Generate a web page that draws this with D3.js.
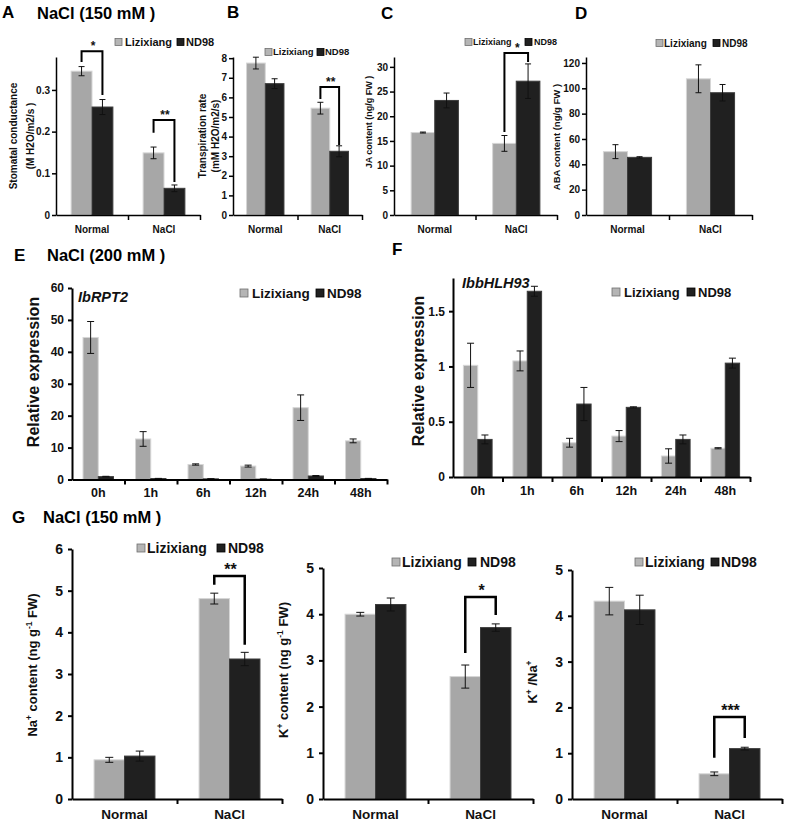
<!DOCTYPE html>
<html><head><meta charset="utf-8">
<script src="https://cdn.jsdelivr.net/npm/d3@7"></script>
<style>
body{margin:0;background:#fff;}
svg{display:block;}
</style></head><body>
<svg id="c" width="787" height="825"></svg>
<script>
// ---------------- data ----------------
const series = ["Lizixiang", "ND98"];
const conditions = ["Normal", "NaCl"];
const timepoints = ["0h", "1h", "6h", "12h", "24h", "48h"];

// A: stomatal conductance
const stomatalLiz = [0.345, 0.149];
const stomatalLizErr = [0.011, 0.014];
const stomatalND = [0.259, 0.064];
const stomatalNDErr = [0.018, 0.008];
const stomatalTicks = [0, 0.1, 0.2, 0.3];
const stomatalTickLabels = ["0", "0.1", "0.2", "0.3"];

// B: transpiration rate
const transpLiz = [7.75, 5.45];
const transpLizErr = [0.3, 0.3];
const transpND = [6.7, 3.25];
const transpNDErr = [0.25, 0.28];
const transpTicks = [0, 1, 2, 3, 4, 5, 6, 7, 8];
const transpTickLabels = ["0", "1", "2", "3", "4", "5", "6", "7", "8"];

// C: JA content
const jaLiz = [16.7, 14.5];
const jaLizErr = [0.1, 1.6];
const jaND = [23.2, 27.1];
const jaNDErr = [1.5, 3.5];
const jaTicks = [0, 5, 10, 15, 20, 25, 30];
const jaTickLabels = ["0", "5", "10", "15", "20", "25", "30"];

// D: ABA content
const abaLiz = [50, 107.5];
const abaLizErr = [5.5, 11];
const abaND = [45.5, 96.5];
const abaNDErr = [0.5, 6.5];
const abaTicks = [0, 20, 40, 60, 80, 100, 120];
const abaTickLabels = ["0", "20", "40", "60", "80", "100", "120"];

// E: IbRPT2 relative expression
const rptLiz = [44.5, 12.7, 4.7, 4.2, 22.5, 12.1];
const rptLizErr = [5, 2.3, 0.2, 0.3, 4, 0.6];
const rptND = [0.9, 0.3, 0.2, 0.1, 1.1, 0.3];
const rptNDErr = [0.1, 0.05, 0.05, 0.03, 0.15, 0.05];
const rptTicks = [0, 10, 20, 30, 40, 50, 60];
const rptTickLabels = ["0", "10", "20", "30", "40", "50", "60"];

// F: IbbHLH93 relative expression
const bhlhLiz = [1.01, 1.05, 0.31, 0.37, 0.19, 0.26];
const bhlhLizErr = [0.2, 0.09, 0.04, 0.05, 0.065, 0.005];
const bhlhND = [0.34, 1.68, 0.66, 0.63, 0.34, 1.03];
const bhlhNDErr = [0.04, 0.045, 0.15, 0.005, 0.04, 0.045];
const bhlhTicks = [0, 0.5, 1, 1.5];
const bhlhTickLabels = ["0", "0.5", "1", "1.5"];

// G: ion contents
const naLiz = [0.94, 4.81];
const naLizErr = [0.06, 0.13];
const naND = [1.03, 3.36];
const naNDErr = [0.12, 0.16];
const naTicks = [0, 1, 2, 3, 4, 5, 6];
const naTickLabels = ["0", "1", "2", "3", "4", "5", "6"];

const kLiz = [4.0, 2.65];
const kLizErr = [0.04, 0.25];
const kND = [4.21, 3.71];
const kNDErr = [0.14, 0.08];
const kTicks = [0, 1, 2, 3, 4, 5];
const kTickLabels = ["0", "1", "2", "3", "4", "5"];

const knaLiz = [4.32, 0.55];
const knaLizErr = [0.3, 0.04];
const knaND = [4.13, 1.1];
const knaNDErr = [0.32, 0.03];
const knaTicks = [0, 1, 2, 3, 4, 5];
const knaTickLabels = ["0", "1", "2", "3", "4", "5"];

// significance brackets (data units): top line, left leg end, right leg end
const sigBrackets = [
  {panel: "A", cond: "Normal", top: 0.393, left: 0.367, right: 0.288, label: "*"},
  {panel: "A", cond: "NaCl", top: 0.228, left: 0.197, right: 0.079, label: "**"},
  {panel: "B", cond: "NaCl", top: 6.53, left: 5.92, right: 3.57, label: "**"},
  {panel: "C", cond: "NaCl", top: 32.8, left: 16.8, right: 31.0, label: "*"},
  {panel: "Na", cond: "NaCl", top: 5.35, left: 5.14, right: 3.70, label: "**"},
  {panel: "K", cond: "NaCl", top: 4.37, left: 3.16, right: 3.98, label: "*"},
  {panel: "KNa", cond: "NaCl", top: 1.79, left: 0.90, right: 1.33, label: "***"}
];

// ---------------- style / layout ----------------
const FONT = '"Liberation Sans", Arial, Helvetica, sans-serif';
const LIZ_FILL = "#a7a7a7", LIZ_STROKE = "#d6d6d6";
const ND_FILL = "#202020", ND_STROKE = "#3c3c3c";
const svg = d3.select("#c");

const panels = [
  {key: "A", cats: conditions, liz: stomatalLiz, lizErr: stomatalLizErr, nd: stomatalND, ndErr: stomatalNDErr,
   ticks: stomatalTicks, tickLabels: stomatalTickLabels,
   x0: 56, x1: 200, yZero: 215, yTop: 57, max: 0.379, axisW: 1.5, tickFs: 10, tickPad: 2, xFs: 10, xPad: 11, cap: 3, starFs: 12,
   legend: {y: 42, fs: 11, size: 7, items: [[115, 125], [177, 186]]},
   ylab: {fs: 10, cy: 136, lines: [{t: "Stomatal conductance", x: 13}, {t: "(M H2O/m2/s )", x: 30}]}},
  {key: "B", cats: conditions, liz: transpLiz, lizErr: transpLizErr, nd: transpND, ndErr: transpNDErr,
   ticks: transpTicks, tickLabels: transpTickLabels,
   x0: 233, x1: 362, yZero: 215, yTop: 57, max: 8.06, axisW: 1.5, tickFs: 10, tickPad: 2, xFs: 10, xPad: 11, cap: 3, starFs: 12,
   legend: {y: 52, fs: 9.5, size: 7, items: [[265, 273], [317, 325]]},
   ylab: {fs: 10, cy: 136, lines: [{t: "Transpiration rate", x: 202}, {t: "(mM H2O/m2/s)", x: 215}]}},
  {key: "C", cats: conditions, liz: jaLiz, lizErr: jaLizErr, nd: jaND, ndErr: jaNDErr,
   ticks: jaTicks, tickLabels: jaTickLabels,
   x0: 394, x1: 557, yZero: 215, yTop: 57, max: 32.0, axisW: 1.5, tickFs: 10, tickPad: 2, xFs: 10, xPad: 11, cap: 3, starFs: 12,
   legend: {y: 42, fs: 9, size: 7, items: [[465, 473], [525, 534]]},
   ylab: {fs: 9, cy: 122, lines: [{t: "JA content (ng/g FW )", x: 369}]}},
  {key: "D", cats: conditions, liz: abaLiz, lizErr: abaLizErr, nd: abaND, ndErr: abaNDErr,
   ticks: abaTicks, tickLabels: abaTickLabels,
   x0: 586, x1: 752, yZero: 215, yTop: 57, max: 124.7, axisW: 1.5, tickFs: 10, tickPad: 2, xFs: 10, xPad: 11, cap: 3, starFs: 12,
   legend: {y: 43, fs: 10, size: 7, items: [[656, 664], [713, 722]]},
   ylab: {fs: 9.5, cy: 137, lines: [{t: "ABA content (ng/g FW )", x: 557}]}},
  {key: "E", cats: timepoints, liz: rptLiz, lizErr: rptLizErr, nd: rptND, ndErr: rptNDErr,
   ticks: rptTicks, tickLabels: rptTickLabels,
   x0: 72, x1: 387, yZero: 479.5, yTop: 288, max: 60, axisW: 2, tickFs: 12, tickPad: 4, xFs: 12.5, xPad: 9, cap: 3.5, starFs: 14,
   legend: {y: 293, fs: 13.5, size: 8, items: [[240, 252], [316, 327]]},
   ylab: {fs: 16, cy: 372, lines: [{t: "Relative expression", x: 33}]},
   gene: {t: "IbRPT2", x: 78, y: 302}},
  {key: "F", cats: timepoints, liz: bhlhLiz, lizErr: bhlhLizErr, nd: bhlhND, ndErr: bhlhNDErr,
   ticks: bhlhTicks, tickLabels: bhlhTickLabels,
   x0: 453, x1: 750, yZero: 477, yTop: 278, max: 1.8, axisW: 2, tickFs: 12, tickPad: 4, xFs: 12.5, xPad: 9, cap: 3.5, starFs: 14,
   legend: {y: 292, fs: 13, size: 8, items: [[612, 624], [687, 698]]},
   ylab: {fs: 16, cy: 371, lines: [{t: "Relative expression", x: 418}]},
   gene: {t: "IbbHLH93", x: 462, y: 288}},
  {key: "Na", cats: conditions, liz: naLiz, lizErr: naLizErr, nd: naND, ndErr: naNDErr,
   ticks: naTicks, tickLabels: naTickLabels,
   x0: 72, x1: 282, yZero: 799, yTop: 549, max: 6, axisW: 2, tickFs: 14, tickPad: 5, xFs: 13.5, xPad: 10, cap: 4, starFs: 16,
   legend: {y: 548, fs: 14, size: 8, items: [[137, 147], [217, 228]]},
   ylab: {fs: 13, cy: 665, parts: [["Na"], ["+", 1], [" content (ng g"], ["-1", 1], [" FW)"]], x: 37}},
  {key: "K", cats: conditions, liz: kLiz, lizErr: kLizErr, nd: kND, ndErr: kNDErr,
   ticks: kTicks, tickLabels: kTickLabels,
   x0: 323, x1: 533, yZero: 799, yTop: 568, max: 5, axisW: 2, tickFs: 14, tickPad: 5, xFs: 13.5, xPad: 10, cap: 4, starFs: 16,
   legend: {y: 562, fs: 14, size: 8, items: [[392, 402], [468, 480]]},
   ylab: {fs: 13, cy: 670, parts: [["K"], ["+", 1], [" content (ng g"], ["-1", 1], [" FW)"]], x: 288}},
  {key: "KNa", cats: conditions, liz: knaLiz, lizErr: knaLizErr, nd: knaND, ndErr: knaNDErr,
   ticks: knaTicks, tickLabels: knaTickLabels,
   x0: 572, x1: 782, yZero: 799, yTop: 570, max: 5, axisW: 2, tickFs: 14, tickPad: 5, xFs: 13.5, xPad: 10, cap: 4, starFs: 16,
   legend: {y: 562, fs: 14, size: 8, items: [[635, 645], [711, 721]]},
   ylab: {fs: 13, cy: 682, parts: [["K"], ["+", 1], [" /Na"], ["+", 1]], x: 537}}
];

const headings = [
  {t: "A", x: 2, y: 18, fs: 17}, {t: "NaCl (150 mM )", x: 37, y: 19, fs: 16.5},
  {t: "B", x: 227, y: 18, fs: 17}, {t: "C", x: 381, y: 19, fs: 17}, {t: "D", x: 575, y: 19, fs: 17},
  {t: "E", x: 14, y: 261, fs: 17}, {t: "NaCl (200 mM )", x: 47, y: 261, fs: 16.5},
  {t: "F", x: 392, y: 255, fs: 17},
  {t: "G", x: 12, y: 523, fs: 17}, {t: "NaCl (150 mM )", x: 43, y: 523, fs: 16.5}
];

function txt(g) {
  return g.append("text").attr("font-family", FONT).attr("font-weight", "bold").attr("fill", "#111");
}

function drawPanel(p) {
  const g = svg.append("g").attr("class", "panel-" + p.key);
  const x = d3.scaleBand().domain(p.cats).range([p.x0, p.x1]);
  const bw = x.bandwidth() * 0.29;
  const xs = d3.scaleBand().domain(series).range([0, 2 * bw]);
  const y = d3.scaleLinear().domain([0, p.max]).range([p.yZero, p.yTop]);

  const data = [];
  p.cats.forEach((c, i) => {
    data.push({c, s: series[0], v: p.liz[i], e: p.lizErr[i]});
    data.push({c, s: series[1], v: p.nd[i], e: p.ndErr[i]});
  });
  const bx = d => x(d.c) + x.bandwidth() / 2 - bw + xs(d.s);

  g.append("g").selectAll("rect").data(data).join("rect")
    .attr("x", bx).attr("width", bw)
    .attr("y", d => y(d.v)).attr("height", d => y(0) - y(d.v))
    .attr("fill", d => d.s === series[0] ? LIZ_FILL : ND_FILL)
    .attr("stroke", d => d.s === series[0] ? LIZ_STROKE : ND_STROKE)
    .attr("stroke-width", 1);

  const eg = g.append("g").attr("stroke", "#111").attr("stroke-width", 1)
    .selectAll("g").data(data).join("g");
  eg.append("line").attr("x1", d => bx(d) + bw / 2).attr("x2", d => bx(d) + bw / 2)
    .attr("y1", d => y(Math.max(0, d.v - d.e))).attr("y2", d => y(d.v + d.e));
  eg.append("line").attr("x1", d => bx(d) + bw / 2 - p.cap).attr("x2", d => bx(d) + bw / 2 + p.cap)
    .attr("y1", d => y(d.v + d.e)).attr("y2", d => y(d.v + d.e));
  eg.append("line").attr("x1", d => bx(d) + bw / 2 - p.cap).attr("x2", d => bx(d) + bw / 2 + p.cap)
    .attr("y1", d => y(Math.max(0, d.v - d.e))).attr("y2", d => y(Math.max(0, d.v - d.e)));

  // y axis
  const yg = g.append("g").attr("transform", `translate(${p.x0},0)`)
    .call(d3.axisLeft(y).tickValues(p.ticks).tickFormat((d, i) => p.tickLabels[i])
      .tickSize(4).tickSizeOuter(0).tickPadding(p.tickPad));
  yg.attr("font-family", FONT).attr("font-size", p.tickFs).attr("font-weight", "bold");
  yg.select(".domain").attr("stroke", "#000").attr("stroke-width", p.axisW);
  yg.selectAll(".tick line").attr("stroke", "#000").attr("stroke-width", p.axisW);
  yg.selectAll(".tick text").attr("fill", "#111");

  // x axis (labels at band centres)
  const xg = g.append("g").attr("transform", `translate(0,${p.yZero})`)
    .call(d3.axisBottom(x).tickSize(0).tickSizeOuter(0).tickPadding(p.xPad));
  xg.attr("font-family", FONT).attr("font-size", p.xFs).attr("font-weight", "bold");
  xg.select(".domain").attr("stroke", "#000").attr("stroke-width", p.axisW);
  xg.selectAll(".tick text").attr("fill", "#111");
  // boundary tick marks
  const xb = d3.scaleLinear().domain([0, p.cats.length]).range([p.x0, p.x1]);
  const bgx = g.append("g").attr("transform", `translate(0,${p.yZero})`)
    .call(d3.axisBottom(xb).tickValues(d3.range(1, p.cats.length + 1)).tickSize(5).tickFormat(""));
  bgx.select(".domain").remove();
  bgx.selectAll(".tick line").attr("stroke", "#000").attr("stroke-width", p.axisW);

  // legend
  const L = p.legend;
  L.items.forEach(([mx, tx], i) => {
    g.append("rect").attr("x", mx).attr("y", L.y - L.size / 2).attr("width", L.size).attr("height", L.size)
      .attr("fill", i ? ND_FILL : "#b5b5b5").attr("stroke", i ? "#000" : "#6f6f6f").attr("stroke-width", 0.8);
    txt(g).attr("x", tx).attr("y", L.y).attr("dy", "0.36em").attr("font-size", L.fs).text(series[i]);
  });

  // y label
  if (p.ylab.lines) {
    p.ylab.lines.forEach(l => {
      txt(g).attr("transform", `translate(${l.x},${p.ylab.cy}) rotate(-90)`)
        .attr("text-anchor", "middle").attr("dy", "0.36em").attr("font-size", p.ylab.fs).text(l.t);
    });
  } else {
    const t = txt(g).attr("transform", `translate(${p.ylab.x},${p.ylab.cy}) rotate(-90)`)
      .attr("text-anchor", "middle").attr("font-size", p.ylab.fs);
    let shifted = false;
    t.append("tspan").attr("dy", "0.36em").text("");
    p.ylab.parts.forEach(([s, sup]) => {
      const ts = t.append("tspan").text(s);
      if (sup) { ts.attr("font-size", p.ylab.fs * 0.65).attr("dy", shifted ? 0 : -p.ylab.fs * 0.38); shifted = true; }
      else { if (shifted) ts.attr("dy", p.ylab.fs * 0.38); shifted = false; }
    });
  }

  // gene name
  if (p.gene) {
    txt(g).attr("x", p.gene.x).attr("y", p.gene.y).attr("font-size", 14.5).attr("font-style", "italic").text(p.gene.t);
  }

  // significance brackets
  sigBrackets.filter(b => b.panel === p.key).forEach(b => {
    const cx = x(b.cond) + x.bandwidth() / 2;
    const xl = cx - bw / 2, xr = cx + bw / 2;
    g.append("path")
      .attr("d", `M${xl},${y(b.left)}V${y(b.top)}H${xr}V${y(b.right)}`)
      .attr("fill", "none").attr("stroke", "#000").attr("stroke-width", p.axisW + 0.5);
    txt(g).attr("x", cx + 1).attr("y", y(b.top) - 1).attr("text-anchor", "middle")
      .attr("font-size", p.starFs).text(b.label);
  });
}

panels.forEach(drawPanel);

headings.forEach(h => {
  txt(svg).attr("x", h.x).attr("y", h.y).attr("font-size", h.fs).attr("fill", "#000").text(h.t);
});
</script>
</body></html>
